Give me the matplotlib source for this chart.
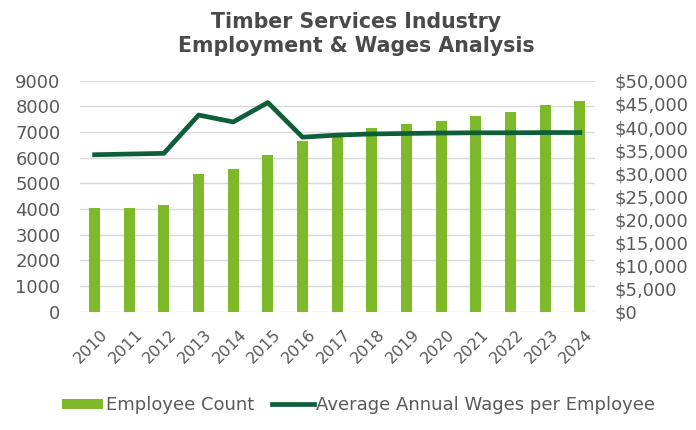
import matplotlib
matplotlib.use("Agg")
import matplotlib.pyplot as plt
import matplotlib.transforms as mtransforms
from matplotlib.ticker import FuncFormatter, MultipleLocator

years = [str(y) for y in range(2010, 2025)]
employees = [4030, 4040, 4150, 5370, 5550, 6100, 6660, 6850, 7150, 7300, 7450, 7640, 7800, 8050, 8210]
wages = [34000, 34150, 34300, 42600, 41100, 45300, 37800, 38250, 38500, 38600, 38700, 38750, 38750, 38800, 38800]

bar_color = "#7DB928"
line_color = "#0E5E3A"
text_color = "#595959"
title_color = "#4A4A4A"

plt.rcParams['font.family'] = ['DejaVu Sans']

fig = plt.figure(figsize=(6.96, 4.30), dpi=100)
ax = fig.add_axes([0.115, 0.275, 0.74, 0.537])
ax2 = ax.twinx()

x = list(range(len(years)))
ax.bar(x, employees, width=0.32, color=bar_color, label="Employee Count", zorder=2)
ax2.plot(x, wages, color=line_color, linewidth=3.4, label="Average Annual Wages per Employee", zorder=3)

ax.set_ylim(0, 9000)
ax.yaxis.set_major_locator(MultipleLocator(1000))
ax2.set_ylim(0, 50000)
ax2.yaxis.set_major_locator(MultipleLocator(5000))
ax2.yaxis.set_major_formatter(FuncFormatter(lambda v, p: f"${int(v):,}"))
ax.set_xlim(-0.42, 14.44)

ax.grid(axis='y', color="#D9D9D9", linewidth=1, zorder=0)
ax.set_axisbelow(True)
for a in (ax, ax2):
    for s in a.spines.values():
        s.set_visible(False)
    a.tick_params(length=0, colors=text_color, labelsize=13)
ax.set_xticks(x)
ax.set_xticklabels(years, rotation=45, ha='right', rotation_mode='anchor', fontsize=11.5)
ax.tick_params(axis='x', pad=11)
offset = mtransforms.ScaledTranslation(4 / 72, 0, fig.dpi_scale_trans)
for lab in ax.get_xticklabels():
    lab.set_transform(lab.get_transform() + offset)
ax.tick_params(axis='y', pad=14)
ax2.tick_params(axis='y', pad=14)

ax.set_zorder(ax2.get_zorder() - 1)
ax.patch.set_visible(True)
ax2.patch.set_visible(False)

fig.text(0.512, 0.922, "Timber Services Industry\nEmployment & Wages Analysis",
         ha='center', va='center', fontsize=14.8, fontweight='bold', color=title_color,
         linespacing=1.25)

h1, l1 = ax.get_legend_handles_labels()
h2, l2 = ax2.get_legend_handles_labels()
fig.legend(h1 + h2, l1 + l2, loc='center', bbox_to_anchor=(0.515, 0.058), ncol=2,
           frameon=False, fontsize=13, labelcolor=text_color, handlelength=2.3,
           handleheight=0.5, handletextpad=0.15, columnspacing=1.0)

fig.savefig("out.png", dpi=100)
